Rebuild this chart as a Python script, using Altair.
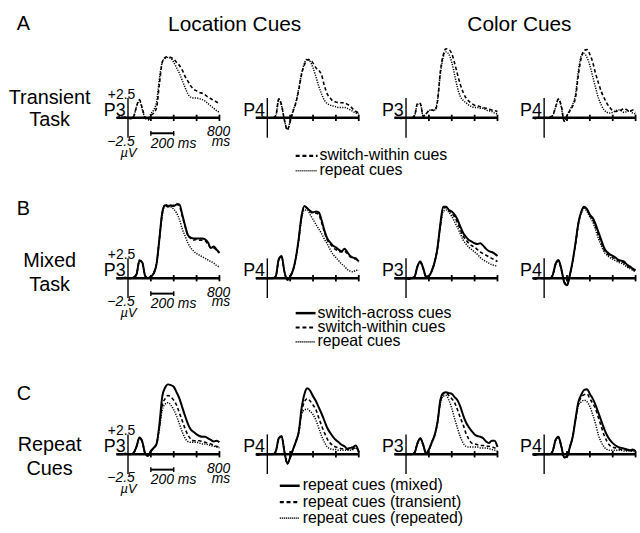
import altair as alt
import pandas as pd

# ---------------- data ----------------
T_MS = [-100, -75, -50, -25, 0, 25, 50, 75, 100, 125, 150, 175,
        200, 225, 250, 275, 300, 325, 350, 375,
        400, 425, 450, 475, 500, 525, 550, 575,
        600, 625, 650, 675, 700, 725, 750, 775, 800]

# Row A: Transient task (switch-within = dashed, repeat = dotted)
A1_within = [0, 0.1, 0, 0.1, 0, -0.1, 0.2, 1.5, 2.3, 1.2, 0.0, -0.3,
             0.3, 0.6, 1.3, 4.3, 7.0, 7.6, 7.7, 7.6,
             7.4, 7.0, 6.6, 6.0, 5.2, 4.6, 4.0, 3.6,
             3.4, 3.2, 3.1, 2.9, 2.6, 2.4, 2.2, 2.0, 1.8]
A1_repeat = [0, 0, 0.1, 0, 0, -0.1, 0.2, 1.4, 2.2, 1.0, 0.0, -0.2,
             0.5, 1.0, 2.0, 5.0, 7.0, 7.5, 7.6, 7.5,
             7.0, 6.3, 5.6, 4.7, 3.8, 3.0, 2.6, 2.5,
             2.5, 2.4, 2.3, 2.1, 1.8, 1.5, 1.2, 0.9, 0.7]
A2_within = [0, 0, 0.1, 0, 0, 0, 0, 0.3, 2.4, 1.6, -0.3, -1.5,
             -0.5, 0.8, 1.9, 3.5, 5.5, 6.7, 7.3, 7.3,
             6.9, 6.3, 6.0, 5.4, 4.0, 3.0, 2.5, 2.1,
             2.0, 1.9, 1.9, 1.9, 1.7, 1.5, 1.1, 0.8, 0.6]
A2_repeat = [0, 0, 0, 0.1, 0, 0, 0, 0.3, 2.3, 1.5, -0.3, -1.5,
             -0.4, 0.9, 2.0, 3.7, 5.6, 6.9, 7.4, 7.1,
             6.3, 5.2, 4.0, 3.0, 2.2, 1.8, 1.6, 1.5,
             1.4, 1.3, 1.3, 1.3, 1.2, 1.0, 0.8, 0.6, 0.5]
A3_within = [0, 0, -0.1, 0, 0, 0, 0, 0.3, 1.8, 1.8, 0.2, 0.5,
             0.9, 1.0, 0.9, 2.0, 5.8, 7.9, 8.7, 8.6,
             8.1, 6.9, 5.5, 4.2, 3.2, 2.5, 2.1, 1.8,
             1.6, 1.5, 1.4, 1.3, 1.2, 1.1, 1.0, 0.9, 0.8]
A3_repeat = [0, 0, 0, 0, 0, 0, 0, 0.3, 1.7, 1.8, 0.2, 0.5,
             0.9, 1.0, 1.0, 2.2, 5.5, 7.6, 8.3, 8.0,
             7.0, 5.4, 3.8, 2.7, 2.2, 1.9, 1.6, 1.4,
             1.3, 1.3, 1.2, 1.2, 1.0, 0.9, 0.8, 0.6, 0.5]
A4_within = [0, -0.1, 0.1, 0, 0, 0, 0.1, 0.3, 1.4, 2.4, 1.5, -0.4,
             0.3, 0.9, 1.5, 2.6, 5.5, 7.6, 8.5, 8.6,
             8.0, 7.0, 5.6, 4.4, 3.3, 2.5, 1.8, 1.3,
             0.9, 0.8, 0.9, 1.0, 1.2, 1.0, 0.8, 1.0, 0.7]
A4_repeat = [0, 0, 0.1, 0, 0, 0, 0.1, 0.3, 1.3, 2.3, 1.4, -0.4,
             0.3, 1.0, 1.7, 3.0, 6.0, 7.8, 8.1, 7.6,
             6.6, 5.2, 3.8, 2.5, 1.6, 1.0, 0.7, 0.6,
             0.7, 0.9, 1.0, 0.9, 0.7, 0.8, 0.9, 0.6, 0.5]

# Row B: Mixed task (switch-across = solid, switch-within = dashed, repeat = dotted)
B1_across = [0, 0, 0, 0.1, 0, 0, 0.1, 0.5, 2.2, 2.0, 0.3, 0,
             0.2, 0.6, 1.8, 5.0, 8.3, 9.2, 9.0, 9.2,
             9.1, 9.3, 9.3, 8.0, 6.6, 5.4, 5.1, 5.0,
             5.0, 5.0, 5.0, 4.9, 4.5, 3.8, 4.0, 3.6, 3.2]
B1_within = [0, 0, 0.1, 0, 0, 0, 0.1, 0.5, 2.3, 2.0, 0.3, 0,
             0.2, 0.6, 1.8, 5.0, 8.2, 9.3, 9.1, 9.0,
             9.2, 9.4, 9.1, 7.8, 6.5, 5.4, 5.0, 4.8,
             4.9, 4.8, 4.8, 4.7, 4.3, 3.8, 3.8, 3.5, 3.2]
B1_repeat = [0, 0, 0, 0, 0, 0, 0.1, 0.5, 2.2, 1.9, 0.3, 0,
             0.3, 0.7, 1.9, 5.0, 8.0, 9.2, 9.2, 9.0,
             8.7, 8.2, 7.4, 6.2, 5.3, 4.4, 3.8, 3.4,
             3.1, 2.9, 2.7, 2.5, 2.3, 2.1, 1.9, 1.6, 1.4]
B2_across = [0, 0, 0, 0, 0, 0, 0, 0.3, 2.4, 2.8, 0.8, -0.2,
             0.2, 1.0, 2.6, 5.0, 7.9, 9.1, 8.8, 8.5,
             8.3, 8.4, 8.3, 7.3, 6.0, 5.0, 4.5, 4.1,
             3.9, 3.6, 3.4, 3.7, 3.3, 2.8, 2.6, 2.5, 2.1]
B2_within = [0, 0, 0, 0, 0.1, 0, 0, 0.3, 2.3, 2.7, 0.8, -0.2,
             0.2, 1.0, 2.5, 4.9, 7.8, 9.0, 8.8, 8.4,
             8.2, 8.2, 8.0, 7.0, 5.8, 4.8, 4.3, 3.9,
             3.6, 3.4, 3.3, 3.4, 3.1, 2.7, 2.5, 2.4, 2.0]
B2_repeat = [0, 0, 0, 0, 0, 0, 0, 0.3, 2.3, 2.7, 0.8, -0.2,
             0.3, 1.1, 2.6, 4.8, 7.5, 8.6, 8.6, 8.0,
             7.4, 6.8, 6.2, 5.6, 4.9, 4.3, 3.6, 3.0,
             2.6, 2.2, 1.8, 1.5, 1.1, 0.9, 0.8, 1.0, 1.0]
B3_across = [0, 0, 0, 0, 0, -0.1, 0, 0.2, 1.5, 2.1, 1.3, 0.2,
             0.3, 0.9, 2.0, 3.8, 6.8, 9.0, 9.0, 8.6,
             8.4, 8.0, 7.4, 6.5, 5.7, 5.2, 4.8, 4.6,
             4.4, 4.3, 4.4, 4.1, 3.7, 3.4, 3.3, 3.1, 2.8]
B3_within = [0, 0, 0, 0, 0, -0.1, 0, 0.2, 1.5, 2.0, 1.2, 0.2,
             0.3, 0.9, 2.0, 3.7, 6.6, 8.8, 8.9, 8.5,
             8.2, 7.7, 7.0, 6.1, 5.3, 4.8, 4.4, 4.1,
             3.9, 3.6, 3.3, 3.1, 2.9, 2.7, 2.5, 2.3, 2.1]
B3_repeat = [0, 0, 0, 0, 0, 0, 0, 0.2, 1.4, 2.0, 1.2, 0.2,
             0.3, 1.0, 2.1, 3.8, 6.4, 8.4, 8.6, 8.3,
             7.8, 7.1, 6.4, 5.6, 4.8, 4.3, 3.9, 3.6,
             3.3, 3.0, 2.6, 2.3, 2.1, 1.9, 1.7, 1.6, 1.5]
B4_across = [0, -0.1, 0.1, 0, 0, 0, 0, 0.4, 1.8, 2.3, 1.2, -0.5,
             -0.9, 0.4, 2.2, 4.5, 7.0, 8.4, 9.0, 8.7,
             8.0, 7.6, 6.8, 5.8, 4.8, 3.8, 3.3, 3.0,
             2.8, 2.6, 2.3, 2.2, 2.1, 1.7, 1.5, 1.2, 1.0]
B4_within = [0, 0, 0.1, 0, 0, 0, 0, 0.4, 1.8, 2.2, 1.1, -0.5,
             -0.9, 0.4, 2.1, 4.4, 6.9, 8.3, 8.9, 8.6,
             7.9, 7.4, 6.5, 5.5, 4.5, 3.6, 3.1, 2.8,
             2.6, 2.4, 2.2, 2.1, 1.9, 1.6, 1.3, 1.1, 0.9]
B4_repeat = [0, 0, 0, 0, 0, 0, 0, 0.4, 1.7, 2.2, 1.1, -0.4,
             -0.8, 0.5, 2.2, 4.4, 6.8, 8.2, 8.8, 8.4,
             7.7, 7.1, 6.1, 5.0, 4.1, 3.3, 2.9, 2.6,
             2.4, 2.2, 2.0, 1.9, 1.7, 1.4, 1.2, 1.0, 0.8]

# Row C: Repeat cues (mixed = solid, transient = dashed, repeated = dotted)
C1_mixed = [0, 0, 0, 0.1, 0, 0, 0.2, 1.0, 2.1, 1.6, 0.1, -0.2,
            0.4, 0.8, 1.3, 3.8, 7.3, 8.4, 8.8, 8.7,
            8.5, 7.8, 7.0, 5.9, 4.8, 3.8, 3.1, 2.8,
            2.5, 2.3, 2.2, 2.2, 2.0, 1.8, 1.6, 1.7, 1.5]
C1_transient = [0, 0, 0, 0, 0, 0, 0.2, 1.0, 2.1, 1.6, 0.1, -0.2,
                0.4, 0.8, 1.3, 3.5, 6.2, 7.0, 7.4, 7.2,
                6.8, 6.2, 5.2, 4.2, 3.2, 2.4, 1.9, 1.7,
                1.7, 1.7, 1.6, 1.5, 1.4, 1.3, 1.1, 1.0, 0.9]
C1_repeated = [0, 0, 0, 0, 0, 0, 0.2, 0.9, 2.0, 1.5, 0.1, -0.2,
               0.4, 0.8, 1.3, 3.3, 5.6, 6.3, 6.5, 6.2,
               5.6, 4.8, 3.8, 2.8, 2.0, 1.6, 1.5, 1.5,
               1.5, 1.4, 1.3, 1.3, 1.2, 1.1, 1.0, 0.9, 0.8]
C2_mixed = [0, -0.1, 0, 0, 0, 0, 0, 0.4, 2.0, 2.3, 0.3, -1.2,
            -0.4, 0.6, 1.6, 2.8, 5.8, 7.6, 8.3, 8.0,
            7.3, 6.7, 5.9, 5.1, 4.2, 3.3, 2.7, 2.2,
            1.8, 1.5, 1.2, 1.0, 0.7, 0.8, 0.9, 1.1, 0.3]
C2_transient = [0, 0, 0, 0, 0, 0, 0, 0.4, 2.0, 2.2, 0.3, -1.2,
                -0.4, 0.6, 1.6, 2.8, 5.4, 6.6, 7.0, 6.7,
                6.2, 5.6, 4.6, 3.6, 2.7, 1.9, 1.4, 1.1,
                0.9, 0.8, 0.7, 0.7, 0.6, 0.6, 0.7, 0.9, 0.3]
C2_repeated = [0, 0, 0, 0, 0, 0, 0, 0.4, 1.9, 2.2, 0.3, -1.1,
               -0.4, 0.6, 1.6, 2.8, 5.0, 5.6, 5.7, 5.4,
               5.0, 4.3, 3.3, 2.3, 1.5, 0.9, 0.7, 0.6,
               0.6, 0.5, 0.5, 0.5, 0.5, 0.5, 0.6, 0.8, 0.3]
C3_mixed = [0, 0, 0, 0, 0, 0, 0, 0.2, 1.4, 2.0, 1.2, 0.1,
            0.6, 1.5, 2.4, 4.0, 6.8, 7.7, 7.8, 7.7,
            7.6, 7.2, 6.8, 6.0, 4.9, 4.0, 3.4, 2.9,
            2.5, 2.3, 2.2, 2.0, 1.6, 1.4, 1.7, 1.7, 0.9]
C3_transient = [0, 0, 0, 0, 0, 0, 0, 0.2, 1.4, 2.0, 1.2, 0.1,
                0.6, 1.5, 2.4, 4.0, 6.6, 7.6, 7.7, 7.4,
                7.0, 6.5, 5.6, 4.6, 3.7, 2.6, 1.9, 1.4,
                1.3, 1.2, 1.1, 1.1, 1.0, 1.0, 0.9, 0.8, 0.5]
C3_repeated = [0, 0, 0, 0, 0, 0, 0, 0.2, 1.3, 1.9, 1.1, 0.1,
               0.5, 1.4, 2.3, 3.9, 6.4, 7.3, 7.4, 6.8,
               5.8, 4.5, 3.3, 2.2, 1.4, 1.0, 0.9, 0.9,
               0.9, 0.9, 0.8, 0.8, 0.8, 0.7, 0.6, 0.5, 0.4]
C4_mixed = [0, -0.1, 0, 0, 0, 0, 0, 0.4, 1.8, 2.2, 1.0, -0.4,
            -0.3, 0.9, 2.2, 4.5, 6.6, 7.5, 8.1, 8.2,
            7.6, 7.0, 6.2, 5.2, 4.2, 3.2, 2.4, 1.8,
            1.4, 1.1, 0.9, 0.8, 0.7, 0.6, 0.5, 0.6, 0.4]
C4_transient = [0, 0, 0, 0, 0, 0, 0, 0.4, 1.8, 2.2, 1.0, -0.4,
                -0.3, 0.9, 2.2, 4.4, 6.4, 7.2, 7.5, 7.6,
                7.0, 6.4, 5.7, 4.6, 3.5, 2.4, 1.6, 1.1,
                0.9, 0.8, 0.7, 0.6, 0.6, 0.5, 0.4, 0.5, 0.3]
C4_repeated = [0, 0, 0, 0, 0, 0, 0, 0.4, 1.7, 2.1, 1.0, -0.4,
               -0.3, 0.9, 2.2, 4.3, 6.2, 6.6, 6.8, 6.6,
               6.0, 5.0, 3.8, 2.4, 1.5, 0.9, 0.6, 0.5,
               0.5, 0.5, 0.5, 0.5, 0.4, 0.4, 0.4, 0.4, 0.3]

PANELS = {
    (0, 0): [(A1_repeat, "dotted"), (A1_within, "dashed")],
    (0, 1): [(A2_repeat, "dotted"), (A2_within, "dashed")],
    (0, 2): [(A3_repeat, "dotted"), (A3_within, "dashed")],
    (0, 3): [(A4_repeat, "dotted"), (A4_within, "dashed")],
    (1, 0): [(B1_repeat, "dotted"), (B1_within, "dashed"), (B1_across, "solid")],
    (1, 1): [(B2_repeat, "dotted"), (B2_within, "dashed"), (B2_across, "solid")],
    (1, 2): [(B3_repeat, "dotted"), (B3_within, "dashed"), (B3_across, "solid")],
    (1, 3): [(B4_repeat, "dotted"), (B4_within, "dashed"), (B4_across, "solid")],
    (2, 0): [(C1_repeated, "dotted"), (C1_transient, "dashed"), (C1_mixed, "solid")],
    (2, 1): [(C2_repeated, "dotted"), (C2_transient, "dashed"), (C2_mixed, "solid")],
    (2, 2): [(C3_repeated, "dotted"), (C3_transient, "dashed"), (C3_mixed, "solid")],
    (2, 3): [(C4_repeated, "dotted"), (C4_transient, "dashed"), (C4_mixed, "solid")],
}

ELECTRODES = ["P3", "P4", "P3", "P4"]
ROW_LETTERS = ["A", "B", "C"]
ROW_LABELS = [["Transient", "Task"], ["Mixed", "Task"], ["Repeat", "Cues"]]
COL_TITLES = ["Location Cues", "Color Cues"]
TICKS_MS = [200, 400, 600, 800]
LEGENDS = [
    [("dashed", "switch-within cues"), ("dotted", "repeat cues")],
    [("solid", "switch-across cues"), ("dashed", "switch-within cues"), ("dotted", "repeat cues")],
    [("solid", "repeat cues (mixed)"), ("dashed", "repeat cues (transient)"), ("dotted", "repeat cues (repeated)")],
]

# ---------------- layout / style ----------------
FONT = "Liberation Sans"
NARROW = "Liberation Sans Narrow, Liberation Sans"
K = 0.1152          # px per ms
UV = 8.0            # px per microvolt
ROW_TOP = [0, 170, 350]
ROW_H = [170, 180, 183]
ROW_Y0 = [116.7, 278.3, 455.7]
COL_L = [0, 222.2, 361.8, 501.4]
COL_W = [222.2, 139.6, 139.6, 138.6]
COL_X0 = [129, 268.6, 408.0, 546.8]
LETTER_Y = [28, 215, 401]
LABEL_Y = [[102.5, 125], [267, 291.5], [452, 476.5]]
LEG_LINE_X = [(298, 320), (298, 318), (282, 302)]
LEG_TEXT_X = [322, 320, 305]
LEG_BASE_Y = [[159.5, 174.5], [318, 332.5, 347], [492, 508.5, 524.5]]

CURVE_STYLE = {
    "solid": {"strokeWidth": 2.0},
    "dashed": {"strokeWidth": 1.6, "strokeDash": [3.5, 2.5]},
    "dotted": {"strokeWidth": 1.5, "strokeDash": [1.2, 1.3]},
}
LEG_STYLE = {
    "solid": {"strokeWidth": 2.5},
    "dashed": {"strokeWidth": 2.2, "strokeDash": [4, 2.8]},
    "dotted": {"strokeWidth": 1.7, "strokeDash": [1, 1]},
}


def text_layer(s, px, py, L, T, size=14, align="left", italic=False, font=FONT):
    return alt.Chart(pd.DataFrame({"s": [s]})).mark_text(
        align=align, baseline="alphabetic", fontSize=size, font=font,
        fontStyle="italic" if italic else "normal", color="black"
    ).encode(x=alt.value(px - L), y=alt.value(py - T), text="s:N")


def panel(r, c):
    L, T, W, H = COL_L[c], ROW_TOP[r], COL_W[c], ROW_H[r]
    X0, Y0 = COL_X0[c], ROW_Y0[r]
    xs = alt.Scale(domain=[-(X0 - L) / K, (L + W - X0) / K], nice=False, zero=False)
    ys = alt.Scale(domain=[-(T + H - Y0) / UV, (Y0 - T) / UV], nice=False, zero=False)
    X = lambda f: alt.X(f, type="quantitative", scale=xs, axis=None)
    Y = lambda f: alt.Y(f, type="quantitative", scale=ys, axis=None)

    layers = []
    for vals, sty in PANELS[(r, c)]:
        df = pd.DataFrame({"t": T_MS, "v": vals})
        layers.append(alt.Chart(df).mark_line(
            color="black", interpolate="monotone", strokeCap="butt", **CURVE_STYLE[sty]
        ).encode(x=X("t"), y=Y("v")))

    # horizontal time axis
    layers.append(alt.Chart(pd.DataFrame({"t": [-100], "t2": [800], "v": [0]})).mark_rule(
        color="black", strokeWidth=2.5).encode(x=X("t"), x2="t2:Q", y=Y("v")))
    # ticks
    layers.append(alt.Chart(pd.DataFrame({"t": TICKS_MS, "v": [-0.4] * 4, "v2": [0.4] * 4})).mark_rule(
        color="black", strokeWidth=1.8).encode(x=X("t"), y=Y("v"), y2="v2:Q"))
    # vertical amplitude axis (+/-2.5 uV)
    layers.append(alt.Chart(pd.DataFrame({"t": [0], "v": [-2.5], "v2": [2.5]})).mark_rule(
        color="black", strokeWidth=1.4).encode(x=X("t"), y=Y("v"), y2="v2:Q"))
    # electrode label
    layers.append(text_layer(ELECTRODES[c], X0 - 2.3, Y0 - 2, L, T, size=18,
                             align="right", font=NARROW))

    if c == 0:
        # 200 ms scale bar
        layers.append(alt.Chart(pd.DataFrame({"t": [200], "t2": [400], "v": [-1.94]})).mark_rule(
            color="black", strokeWidth=2).encode(x=X("t"), x2="t2:Q", y=Y("v")))
        layers.append(alt.Chart(pd.DataFrame({"t": [200, 400], "v": [-1.65, -1.65], "v2": [-2.25, -2.25]})).mark_rule(
            color="black", strokeWidth=1.4).encode(x=X("t"), y=Y("v"), y2="v2:Q"))
        layers.append(text_layer("+2.5", X0 - 6.5, Y0 - 19.5, L, T, size=14, align="center"))
        layers.append(text_layer("\u22122.5", X0 - 7, Y0 + 28, L, T, size=14, align="center", italic=True))
        layers.append(text_layer("\u00b5V", X0 + 0.5, Y0 + 39, L, T, size=13, align="center", italic=True))
        layers.append(text_layer("200 ms", X0 + 23, Y0 + 30.5, L, T, size=14, italic=True))
        layers.append(text_layer("800", X0 + 103, Y0 + 18.5, L, T, size=14, align="right", italic=True))
        layers.append(text_layer("ms", X0 + 103, Y0 + 28.5, L, T, size=14, align="right", italic=True))
        # row letter and row label
        layers.append(text_layer(ROW_LETTERS[r], 17, LETTER_Y[r], L, T, size=20))
        for line, yy in zip(ROW_LABELS[r], LABEL_Y[r]):
            layers.append(text_layer(line, 50, yy, L, T, size=20, align="center"))
        if r == 0:
            layers.append(text_layer(COL_TITLES[0], 236.5, 29, L, T, size=21, align="center"))
            layers.append(text_layer(COL_TITLES[1], 523.5, 29, L, T, size=21, align="center"))
        # legend
        x1, x2 = LEG_LINE_X[r]
        for (sty, lab), by in zip(LEGENDS[r], LEG_BASE_Y[r]):
            layers.append(alt.Chart(pd.DataFrame({"a": [0]})).mark_rule(
                color="black", strokeCap="butt", **LEG_STYLE[sty]
            ).encode(x=alt.value(x1 - L), x2=alt.value(x2 - L), y=alt.value(by - 4.5 - T)))
            layers.append(text_layer(lab, LEG_TEXT_X[r], by, L, T, size=16))

    return alt.layer(*layers).properties(width=W, height=H)


panels = [panel(r, c) for r in range(3) for c in range(4)]

chart = alt.concat(*panels, columns=4, spacing=0, bounds="flush", align="each").properties(
    padding=0, background="white"
).configure_view(stroke=None)

chart.save("out.html", embed_options={"renderer": "svg", "actions": False})
